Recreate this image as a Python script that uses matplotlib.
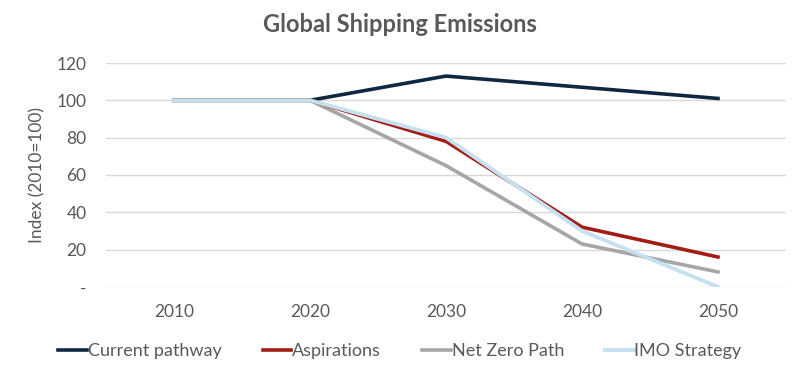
import numpy as np
import matplotlib
matplotlib.use("Agg")
from matplotlib import pyplot as plt

plt.rcParams['font.family'] = ['Lato', 'DejaVu Sans']

years = ["2010", "2020", "2030", "2040", "2050"]
current = [100, 100, 113, 107, 101]
aspirations = [100, 100, 78, 32, 16]
net_zero = [100, 100, 65, 23, 8]
imo = [100, 100, 80, 30, 0]
yticks = [0, 20, 40, 60, 80, 100, 120]
ytick_labels = ["-", "20", "40", "60", "80", "100", "120"]

fig = plt.figure(figsize=(8, 3.75), dpi=100)
ax = fig.add_axes([0.1325, 0.235, 0.85, 0.597])

x = np.arange(len(years))
ax.plot(x, current, color="#0e2841", lw=2.6, label="Current pathway", zorder=2)
ax.plot(x, aspirations, color="#a31d16", lw=2.6, label="Aspirations", zorder=3)
ax.plot(x, net_zero, color="#a6a6a6", lw=2.6, label="Net Zero Path", zorder=2.5)
ax.plot(x, imo, color="#c5e1f0", lw=2.8, label="IMO Strategy", zorder=4)

ax.set_xlim(-0.5, len(years) - 0.5)
ax.set_ylim(0, 120)
ax.set_xticks(x)
ax.set_xticklabels(years)
ax.set_yticks(yticks)
ax.set_yticklabels(ytick_labels)
ax.yaxis.grid(True, color="#d9d9d9", lw=1)
ax.set_axisbelow(True)
for s in ax.spines.values():
    s.set_visible(False)
ax.tick_params(length=0, labelsize=12.5, labelcolor="#595959")
ax.tick_params(axis='x', pad=12)
ax.tick_params(axis='y', pad=14)
ax.set_ylabel("Index (2010=100)", fontsize=12.5, color="#595959", labelpad=8)

fig.text(0.5, 0.935, "Global Shipping Emissions", ha="center", va="center",
         fontsize=17, fontweight="bold", color="#595959")

fig.legend(loc="center", bbox_to_anchor=(0.5, 0.063), ncol=4, frameon=False,
           fontsize=13, labelcolor="#595959",
           handlelength=1.6, handletextpad=0.05, columnspacing=2.25)

fig.savefig("out.png", dpi=100)
